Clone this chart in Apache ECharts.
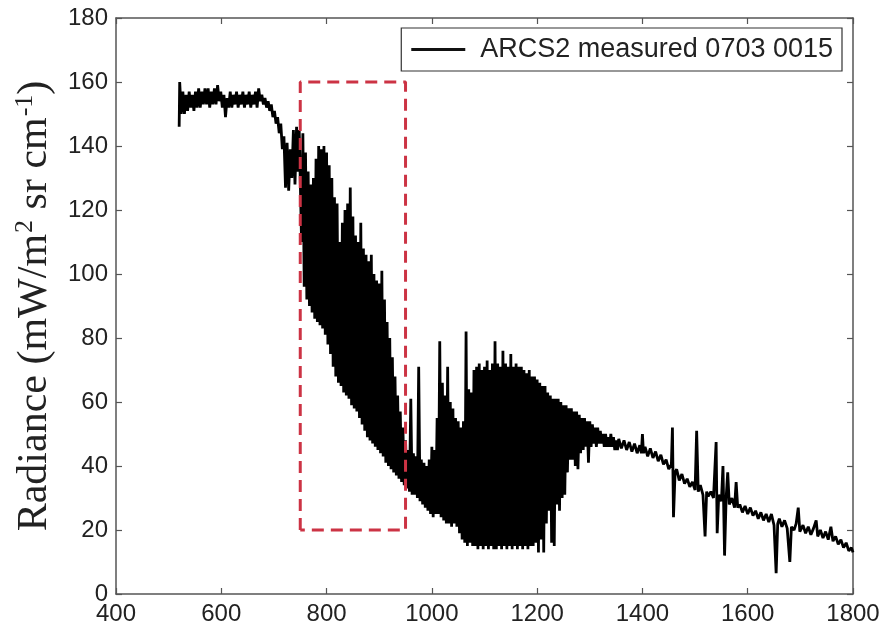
<!DOCTYPE html>
<html>
<head>
<meta charset="utf-8">
<script src="https://cdn.jsdelivr.net/npm/echarts@6/dist/echarts.min.js"></script>
<style>
html,body{margin:0;padding:0;background:#fff;}
#chart{width:883px;height:627px;}
</style>
</head>
<body>
<div id="chart"></div>
<script>
// x-axis ticks and y-axis ticks
const xTicks = [400, 600, 800, 1000, 1200, 1400, 1600, 1800];
const yTicks = [0, 20, 40, 60, 80, 100, 120, 140, 160, 180];
const seriesName = 'ARCS2 measured 0703 0015';

// Spectrum: [wavenumber, radiance]
const segA = [
  [520,146],[521,160],[524,150],[527,157],[530,150],[533,156],[536,151],[539,157],[542,152],[545,156],
  [548,151],[551,157],[554,152],[557,158],[560,152],[563,157],[566,153],[569,158],[572,153],[575,158],
  [578,152],[581,157],[584,153],[587,158],[590,153],[593,159],[596,154],[599,157],[602,152],[605,156],
  [608,149],[611,155],[614,152],[617,157],[620,152],[623,156],[626,153],[629,157],[632,152],[635,156],
  [638,153],[641,157],[644,152],[647,156],[650,153],[653,157],[656,152],[659,156],[662,153],[665,157],
  [668,152],[671,158],[674,154],[677,156],[680,153],[683,155],[686,152],[689,154],[692,151],[695,153],
  [698,149],[701,151],[704,147],[707,149],[710,144],[713,147],[716,139],[719,143],[722,127],[725,141],
  [728,126],[731,139],[734,130],[737,145],[740,128],[743,146],[746,132],[748,145]
];
const segB = [
  [750,145],[752.5,110],[755,144],[757.5,96],[760,138],[762.5,92],[765,132],[767.5,90],[770,128],[772.5,88],
  [775,130],[777.5,86],[780,136],[782.5,85],[785,140],[787.5,84],[790,139],[792.5,83],[795,140],[797.5,81],
  [800,138],[802.5,78],[805,134],[807.5,75],[810,130],[812.5,71],[815,124],[817.5,68],[820,122],[822.5,66],
  [825,110],[827.5,65],[830,116],[832.5,63],[835,120],[837.5,62],[840,122],[842.5,61],[845,127],[847.5,59],
  [850,118],[852.5,58],[855,112],[857.5,57],[860,110],[862.5,55],[865,116],[867.5,53],[870,108],[872.5,51],
  [875,106],[877.5,49],[880,104],[882.5,48],[885,106],[887.5,47],[890,100],[892.5,46],[895,98],[897.5,45],
  [900,97],[902.5,44],[905,101],[907.5,43],[910,92],[912.5,41],[915,85],[917.5,40],[920,80],[922.5,39],
  [925,74],[927.5,38],[930,68],[932.5,37],[935,62],[937.5,36],[940,57],[942.5,35],[945,52],[947.5,34]
];
const segC = [
  [950,48],[952.5,33],[955,45],[957.5,32],[960,61],[962.5,31],[965,44],[967.5,31],[970,43],[972.5,30],
  [975,71],[977.5,29],[980,42],[982.5,28],[985,41],[987.5,27],[990,40],[992.5,26],[995,42],[997.5,25],
  [1000,46],[1002.5,24],[1005,45],[1007.5,25],[1010,55],[1012.5,25],[1015,79],[1017.5,24],[1020,66],[1022.5,23],
  [1025,62],[1027.5,22],[1030,71],[1032.5,22],[1035,60],[1037.5,21],[1040,58],[1042.5,22],[1045,55],[1047.5,21],
  [1050,54],[1052.5,19],[1055,52],[1057.5,17]
];
const segD = [
  [1060,54],[1062.5,16],[1065,82],[1067.5,15],[1070,64],[1072.5,16],[1075,63],[1077.5,15],[1080,70],[1082.5,15],
  [1085,71],[1087.5,14],[1090,72],[1092.5,15],[1095,70],[1097.5,14],[1100,71],[1102.5,15],[1105,73],[1107.5,14],
  [1110,70],[1112.5,15],[1115,72],[1117.5,14],[1120,79],[1122.5,14],[1125,72],[1127.5,15],[1130,71],[1132.5,14],
  [1135,76],[1137.5,15],[1140,72],[1142.5,14],[1145,71],[1147.5,15],[1150,75],[1152.5,14],[1155,71],[1157.5,15],
  [1160,72],[1162.5,14],[1165,71],[1167.5,15],[1170,71],[1172.5,14],[1175,70],[1177.5,15],[1180,69],[1182.5,14],
  [1185,70],[1187.5,15],[1190,68],[1192.5,15],[1195,68],[1197.5,16],[1200,67],[1202.5,13],[1205,66],[1207.5,17],
  [1210,65],[1212.5,13],[1215,65],[1217.5,22],[1220,63],[1222.5,26],[1225,62],[1227.5,16],[1230,61],[1232.5,15],
  [1235,61],[1237.5,28],[1240,61],[1242.5,26],[1245,60],[1247.5,30],[1250,59],[1252.5,31],[1255,59],[1257.5,38],
  [1260,58],[1262.5,42],[1265,58],[1267.5,42],[1270,57],[1272.5,40],[1275,57],[1277.5,39],[1280,56],[1282.5,44]
];
const segE = [
  [1285,55],[1287.5,45],[1290,55],[1292.5,46],[1295,54],[1297.5,41],[1300,54],[1302.5,46],[1305,53],[1307.5,47],
  [1310,52],[1312.5,46],[1315,52],[1317.5,47],[1320,51],[1322.5,47],[1325,50],[1327.5,46],[1330,50],[1332.5,46],
  [1335,49],[1337.5,46],[1340,50],[1342.5,46],[1345,49],[1347.5,45],[1350,48],[1352.5,45],
  [1355,48.5],[1360,45.5],[1365,48],[1370,45],[1375,47.5],[1380,44.5],[1385,47],[1390,44],[1395,46.5],[1398,44],
  [1400,50],[1402,44],[1405,46],[1410,43],[1415,45.5],[1420,42.5],[1425,44.5],[1430,41.5],[1435,43.5],[1440,40.5],
  [1445,42],[1450,39],[1455,40.5],[1457,52],[1459,24],[1462,38],[1465,39],[1470,35.5],[1475,37.5],[1480,34.5],
  [1485,36],[1490,33.5],[1495,35],[1500,32.5],[1503,51],[1506,32],[1510,34],[1515,31],[1519,18],[1522,32],
  [1525,30.5],[1530,32],[1535,30],[1540,47.5],[1542,19],[1545,31],[1550,29],[1553,40],[1556,12],[1559,30],
  [1562,38],[1565,28],[1570,30],[1575,27],[1578,35],[1581,27],[1585,28],[1590,25.5],[1595,27.5],[1600,25],
  [1605,27],[1610,24.5],[1615,26],[1620,23.5],[1625,25.5],[1630,23],[1635,25],[1640,22.5],[1645,25],[1650,21.5],
  [1654,6.5],[1657,22],[1660,23.5],[1665,21],[1670,23],[1675,20.5],[1680,10],[1683,21],[1688,20],[1692,22],
  [1696,27],[1699,19.5],[1705,21.5],[1710,19],[1715,21],[1720,18.5],[1725,20.5],[1730,23],[1733,18],[1738,20],
  [1743,17.5],[1748,19.5],[1753,17],[1758,21],[1762,16.5],[1767,18],[1772,15.5],[1777,17],[1782,14.5],[1787,16],
  [1792,13.5],[1797,14.5],[1800,13]
];

// Red dashed box corners (wavenumber, radiance)
const boxX = [750, 750, 950, 950, 750];
const boxY = [20, 160, 160, 20, 20];

const spectrum = [].concat(segA, segB, segC, segD, segE);
const boxData = boxX.map((x, i) => [x, boxY[i]]);

const chart = echarts.init(document.getElementById('chart'), null, {renderer: 'canvas'});
const axisColor = '#555';
const labelFont = {fontFamily: 'Liberation Sans, Arial, sans-serif', fontSize: 24, color: '#222'};
const plainNum = v => String(v);

chart.setOption({
  animation: false,
  backgroundColor: '#fff',
  grid: {left: 116, right: 30, top: 18, bottom: 33},
  legend: {
    data: [{name: seriesName, icon: 'rect'}],
    right: 41, top: 28,
    padding: [8, 9, 8, 10],
    borderColor: '#333', borderWidth: 1.2,
    backgroundColor: '#fff',
    itemWidth: 54, itemHeight: 3,
    itemStyle: {color: '#111'},
    textStyle: {fontFamily: 'Liberation Sans, Arial, sans-serif', fontSize: 27, color: '#222', padding: [0, 0, 0, 10]}
  },
  xAxis: [{
    type: 'value', min: xTicks[0], max: xTicks[xTicks.length - 1], interval: xTicks[1] - xTicks[0],
    axisLine: {onZero: false, lineStyle: {color: axisColor, width: 1.5}},
    axisTick: {inside: true, length: 6, lineStyle: {color: axisColor, width: 1.2}},
    axisLabel: Object.assign({margin: 8, formatter: plainNum}, labelFont),
    splitLine: {show: false}
  }, {
    type: 'value', position: 'top', min: xTicks[0], max: xTicks[xTicks.length - 1], interval: xTicks[1] - xTicks[0],
    axisLine: {onZero: false, lineStyle: {color: axisColor, width: 1.5}},
    axisTick: {inside: true, length: 6, lineStyle: {color: axisColor, width: 1.2}},
    axisLabel: {show: false},
    splitLine: {show: false}
  }],
  yAxis: [{
    type: 'value', min: yTicks[0], max: yTicks[yTicks.length - 1], interval: yTicks[1] - yTicks[0],
    name: '{n|Radiance (mW/m}{s|2}{n| sr cm}{s|-1}{n|)}',
    nameLocation: 'middle', nameGap: 58,
    nameTextStyle: {
      rich: {
        n: {fontFamily: 'Liberation Serif, Times New Roman, serif', fontSize: 42, color: '#222', lineHeight: 46},
        s: {fontFamily: 'Liberation Serif, Times New Roman, serif', fontSize: 26, color: '#222', verticalAlign: 'top', lineHeight: 46, padding: [0, 0, 14, 1]}
      }
    },
    axisLine: {onZero: false, lineStyle: {color: axisColor, width: 1.5}},
    axisTick: {inside: true, length: 6, lineStyle: {color: axisColor, width: 1.2}},
    axisLabel: Object.assign({margin: 8, formatter: plainNum}, labelFont),
    splitLine: {show: false}
  }, {
    type: 'value', position: 'right', min: yTicks[0], max: yTicks[yTicks.length - 1], interval: yTicks[1] - yTicks[0],
    axisLine: {onZero: false, lineStyle: {color: axisColor, width: 1.5}},
    axisTick: {inside: true, length: 6, lineStyle: {color: axisColor, width: 1.2}},
    axisLabel: {show: false},
    splitLine: {show: false}
  }],
  series: [{
    name: seriesName,
    type: 'line',
    data: spectrum,
    symbol: 'none',
    lineStyle: {color: '#000', width: 2.8, join: 'bevel'},
    itemStyle: {color: '#000'},
    z: 2
  }, {
    name: 'box',
    type: 'line',
    data: boxData,
    symbol: 'none',
    lineStyle: {color: '#cc3344', width: 3, type: [12, 7]},
    itemStyle: {color: '#cc3344'},
    z: 3
  }]
});
</script>
</body>
</html>
